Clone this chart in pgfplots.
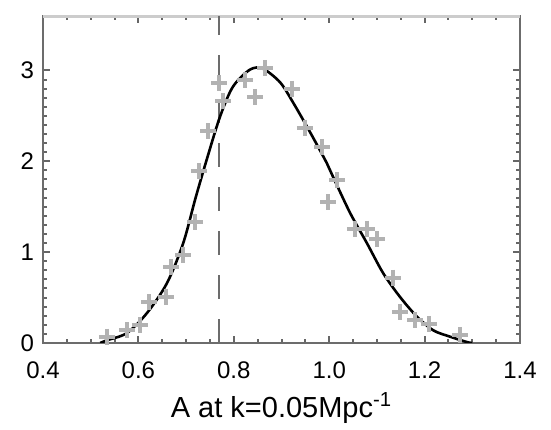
\documentclass[border=0pt]{standalone}
\usepackage{fontspec}
\setmainfont{Liberation Sans}
\usepackage{pgfplots}
\pgfplotsset{compat=1.18}
\begin{document}
\begin{tikzpicture}
\begin{axis}[name=a,
  scale only axis, width=238.5pt, height=163.5pt,
  xmin=0.4, xmax=1.4, ymin=0, ymax=3.6,
  xtick={0.4,0.6,0.8,1.0,1.2,1.4},
  xticklabels={0.4,0.6,0.8,1.0,1.2,1.4},
  ytick={0,1,2,3},
  minor x tick num=3, minor y tick num=9,
  tick align=inside,
  major tick length=3.5pt, minor tick length=2pt,
  every tick/.style={gray!80!black, line width=1pt},
  axis line style={gray!85!black, line width=1.3pt},
  /pgf/number format/assume math mode=true,
  ticklabel style={font=\fontsize{12}{14}\selectfont},
  xlabel={A at k=0.05Mpc\textsuperscript{-1}},
  xlabel style={font=\fontsize{14.5}{16}\selectfont, yshift=0pt},
  yticklabel style={xshift=-1pt},
  xticklabel style={yshift=-6pt},
]
\draw[gray!40, line width=2pt] (rel axis cs:0,1) -- (rel axis cs:1,1);
\addplot[gray!85!black, line width=1pt, dash pattern=on 12pt off 10pt] coordinates {(0.77,0) (0.77,3.6)};
\addplot[only marks, mark=+, mark size=4pt, color=gray!60, line width=2pt] coordinates {
(0.534,0.07) (0.576,0.14) (0.603,0.20) (0.622,0.45) (0.658,0.51) (0.668,0.84)
(0.694,0.97) (0.719,1.33) (0.727,1.89) (0.746,2.33) (0.769,2.86) (0.777,2.66)
(0.823,2.89) (0.844,2.71) (0.865,3.03) (0.922,2.80) (0.949,2.37) (0.985,2.16)
(0.998,1.55) (1.016,1.79) (1.054,1.26) (1.079,1.26) (1.100,1.14) (1.134,0.72)
(1.148,0.34) (1.180,0.25) (1.209,0.21) (1.274,0.09)
};
\addplot[black, line width=1.3pt, smooth, tension=0.5] coordinates {
(0.52,0.0) (0.534,0.03) (0.576,0.11) (0.618,0.33) (0.660,0.66) (0.694,1.10)
(0.720,1.60) (0.745,2.05) (0.771,2.49) (0.798,2.82) (0.834,3.01) (0.861,3.02)
(0.897,2.87) (0.924,2.65) (0.960,2.32) (0.995,1.98) (1.008,1.83) (1.044,1.43)
(1.079,1.10) (1.113,0.77) (1.148,0.51) (1.184,0.29) (1.218,0.14) (1.253,0.07)
(1.289,0.01) (1.30,0.0)
};
\end{axis}
\path ([shift={(-21.5pt,-41pt)}]a.south west) rectangle ([shift={(15.5pt,8pt)}]a.north east);
\end{tikzpicture}
\end{document}
